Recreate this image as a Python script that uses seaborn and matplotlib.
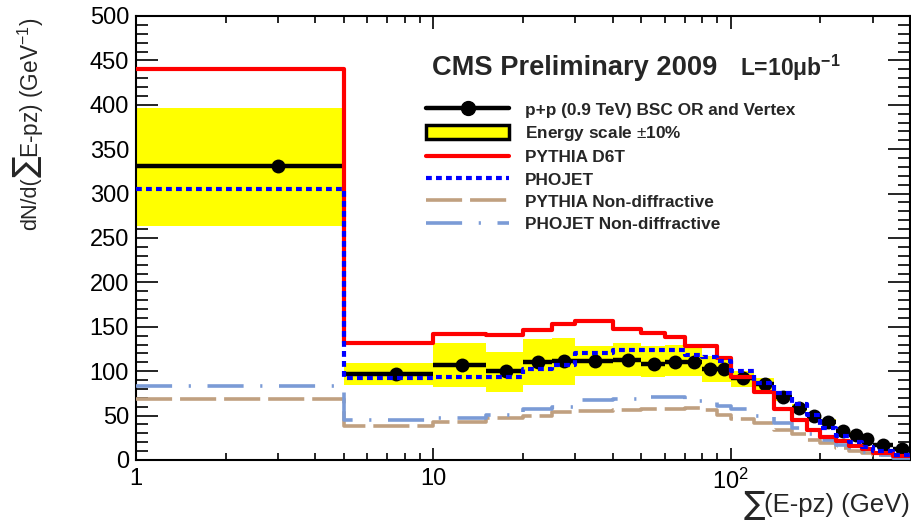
import numpy as np
import pandas as pd
import matplotlib
matplotlib.use('Agg')
import matplotlib.pyplot as plt
import seaborn as sns
from matplotlib.lines import Line2D
from matplotlib.patches import Patch
from matplotlib.ticker import FixedLocator, FixedFormatter, NullFormatter, MultipleLocator

# ---------------- data ----------------
bin_edges = [1, 5, 10, 15, 20, 25, 30, 40, 50, 60, 70, 80, 90, 100,
             120, 140, 160, 180, 200, 225, 250, 275, 300, 350, 400]
data_vals = [331, 97, 107, 100, 110, 111, 111, 113, 108, 110, 110, 102, 103,
             92, 86, 71, 59, 50, 43, 33, 28, 24, 17, 12]
band_low = [263, 85, 82, 77, 84, 85, 95, 95, 93, 95, 95, 88, 88,
            82, 78, 66, 55, 46, 40, 30, 26, 22, 15, 10]
band_high = [396, 109, 132, 122, 136, 137, 128, 132, 128, 129, 128, 117, 117,
             100, 92, 76, 63, 54, 46, 36, 31, 26, 19, 13.5]
pythia_d6t = [440, 132, 142, 141, 146, 153, 156, 147, 143, 139, 128, 128, 115,
              93, 77, 57, 45, 34, 26, 21, 16, 12, 8, 5]
phojet = [305, 92, 93, 94, 103, 107, 120, 124, 124, 124, 118, 116, 111,
          100, 87, 75, 63, 51, 36, 27, 20, 15, 10, 6]
pythia_nd = [68.5, 38.5, 42.5, 47, 49, 54, 55.5, 56.5, 57.5, 57, 58, 56, 51,
             46, 42, 34, 29, 23, 19, 14, 10, 8, 5.5, 3]
phojet_nd = [83, 45, 47, 50.5, 57, 60, 67.5, 68.5, 71, 71, 67, 66, 61,
             57, 49.5, 42, 36, 29, 22, 17, 14, 9.5, 6, 2.5]

y_ticks = list(range(0, 501, 50))
x_tick_vals = [1, 10, 100]
x_tick_labels = ['1', '10', r'$10^{2}$']

legend_labels = ['p+p (0.9 TeV) BSC OR and Vertex', r'Energy scale $\pm$10%',
                 'PYTHIA D6T', 'PHOJET', 'PYTHIA Non-diffractive',
                 'PHOJET Non-diffractive']
title_text = 'CMS Preliminary 2009'
lumi_text = r'L=10$\mathregular{\mu}$b$^{\mathregular{-1}}$'
ylabel_parts = ['dN/d(', '\u2211', r'E-pz) (GeV$^{-1}$)']
xlabel_parts = ['\u2211', '(E-pz) (GeV)']

# ---------------- style ----------------
sns.set_style('ticks')
plt.rcParams['font.family'] = ['Liberation Sans', 'DejaVu Sans']
plt.rcParams['mathtext.fontset'] = 'custom'
plt.rcParams['mathtext.rm'] = 'Liberation Sans'
plt.rcParams['mathtext.it'] = 'Liberation Sans:italic'
plt.rcParams['mathtext.bf'] = 'Liberation Sans:bold'

W, H = 912, 526
fig = plt.figure(figsize=(W / 100, H / 100), dpi=100)
ax = fig.add_axes([136 / W, 1 - 460 / H, 774 / W, 444 / H])
ax.set_xscale('log')

edges = np.array(bin_edges, dtype=float)
centers = (edges[:-1] + edges[1:]) / 2


def step_frame(vals):
    return pd.DataFrame({'x': edges, 'y': list(vals) + [vals[-1]]})


# yellow band
ax.fill_between(edges, list(band_low) + [band_low[-1]], list(band_high) + [band_high[-1]],
                step='post', color='#FFFF00', lw=0, zorder=1)

# data
ax.hlines(data_vals, edges[:-1], edges[1:], color='black', lw=3.2, zorder=3)
sns.scatterplot(x=centers, y=data_vals, color='black', s=100, edgecolor='black',
                linewidth=0, ax=ax, zorder=4, legend=False)

# MC lines
ls_pnd = (0, (10, 2.2))
ls_jnd = (0, (10, 4.6, 0.6, 4.6))
ls_jet = (0, (1.4, 1.0))
common = dict(ax=ax, drawstyle='steps-post', sort=False, estimator=None, legend=False)
sns.lineplot(data=step_frame(pythia_nd), x='x', y='y', color='#C0A080', lw=2.6,
             linestyle=ls_pnd, zorder=5, **common)
sns.lineplot(data=step_frame(phojet_nd), x='x', y='y', color='#7B9BD6', lw=2.6,
             linestyle=ls_jnd, zorder=5, **common)
sns.lineplot(data=step_frame(pythia_d6t), x='x', y='y', color='#FF0000', lw=3,
             zorder=6, **common)
sns.lineplot(data=step_frame(phojet), x='x', y='y', color='#0000FF', lw=3,
             linestyle=ls_jet, zorder=7, **common)

# axes
ax.set_xlim(1, 400)
ax.set_ylim(0, 500)
ax.set_xlabel('')
ax.set_ylabel('')
ax.yaxis.set_major_locator(FixedLocator(y_ticks))
ax.yaxis.set_minor_locator(MultipleLocator(10))
ax.xaxis.set_major_locator(FixedLocator(x_tick_vals))
ax.xaxis.set_major_formatter(FixedFormatter(x_tick_labels))
minor_x = [m * d for d in (1, 10, 100) for m in range(2, 10) if m * d < 400]
ax.xaxis.set_minor_locator(FixedLocator(minor_x))
ax.xaxis.set_minor_formatter(NullFormatter())
ax.tick_params(which='both', direction='in', top=True, right=True, width=1.2,
               labelsize=17, colors='black')
ax.tick_params(axis='y', which='major', length=16, pad=5)
ax.tick_params(axis='y', which='minor', length=8.5)
ax.tick_params(axis='x', which='major', length=9, pad=6)
ax.tick_params(axis='x', which='minor', length=5)
for sp in ax.spines.values():
    sp.set_linewidth(1.5)
    sp.set_color('black')

renderer = fig.canvas.get_renderer()

# y label, built bottom-to-top (pixel coords from bottom-left)
ycur = H - 230
ysizes = [15.5, 23, 16.3]
for part, fs in zip(ylabel_parts, ysizes):
    is_sig = part == '\u2211'
    fam = ['DejaVu Sans'] if is_sig else ['Liberation Sans', 'DejaVu Sans']
    t = fig.text((27 if is_sig else 31) / W, ycur / H, part, rotation=90,
                 ha='center', va='bottom', fontsize=fs, family=fam)
    bb = t.get_window_extent(renderer)
    ycur = bb.y1 - (2 if is_sig else 0)

# x label, right-aligned at the axes right edge
t2 = fig.text(910 / W, (H - 512) / H, xlabel_parts[1], ha='right', va='baseline',
              fontsize=18.5)
bb2 = t2.get_window_extent(renderer)
fig.text((bb2.x0 + 1) / W, (H - 505) / H, xlabel_parts[0], ha='right', va='center',
         fontsize=23, family=['DejaVu Sans'])

# title
ax.text(0.382, 0.883, title_text, transform=ax.transAxes, fontsize=19.6,
        fontweight='bold', ha='left', va='center')
ax.text(0.78, 0.883, lumi_text, transform=ax.transAxes, fontsize=16.5,
        fontweight='bold', ha='left', va='center')

# legend
handles = [
    Line2D([], [], color='black', lw=3.2, marker='o', markersize=10),
    Patch(facecolor='#FFFF00', edgecolor='black', lw=2.5),
    Line2D([], [], color='#FF0000', lw=3),
    Line2D([], [], color='#0000FF', lw=3, linestyle=ls_jet),
    Line2D([], [], color='#C0A080', lw=2.6, linestyle=ls_pnd),
    Line2D([], [], color='#7B9BD6', lw=2.6, linestyle=ls_jnd),
]
leg = ax.legend(handles, legend_labels, loc='upper left', bbox_to_anchor=(0.375, 0.807),
                frameon=False, borderaxespad=0, borderpad=0, handlelength=4.8,
                handletextpad=0.95, labelspacing=0.36, handleheight=0.9,
                prop={'size': 12.4, 'weight': 'bold'})

fig.savefig('out.png', dpi=100)
